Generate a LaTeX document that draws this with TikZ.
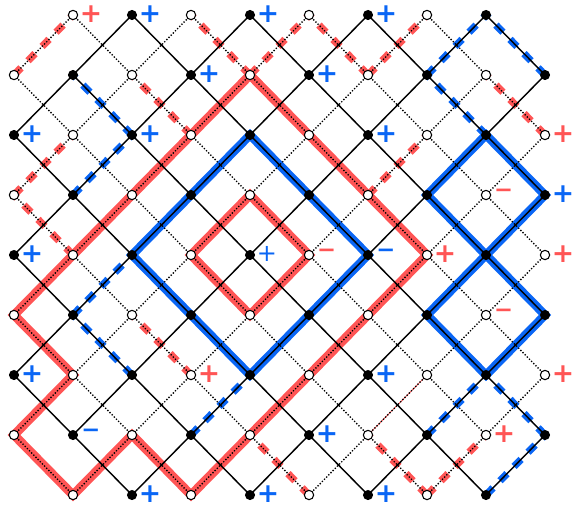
\documentclass[tikz,border=0pt]{standalone}
\usepackage{fontspec}
\newfontfamily\signfont{DejaVu Sans}
\usetikzlibrary{positioning}
\definecolor{plusblue}{HTML}{0A66F5}
\definecolor{minusred}{HTML}{FF5555}
\pgfdeclarelayer{loops}
\pgfdeclarelayer{grid}
\pgfsetlayers{loops,grid,main}

\begin{document}
\begin{tikzpicture}[x=44.25pt,y=-45pt,
  bdot/.style={circle,fill=black,inner sep=0pt,minimum size=7.6pt},
  wdot/.style={circle,draw=black,fill=white,line width=0.8pt,inner sep=0pt,minimum size=7pt},
  solidedge/.style={line width=1.1pt},
  dotedge/.style={line width=1pt,dash pattern=on 1pt off 1.3pt},
  redloop/.style={minusred,line width=6.8pt},
  blueloop/.style={plusblue,line width=6.5pt},
  reddash/.style={minusred,line width=5.5pt,dash pattern=on 7.5pt off 7.5pt},
  bluedash/.style={plusblue,line width=5.5pt,dash pattern=on 7.5pt off 7.5pt},
  bplus/.style={plusblue,inner sep=0pt,yshift=1pt,font=\signfont\bfseries\fontsize{20}{20}\selectfont},
  bminus/.style={plusblue,inner sep=0pt,yshift=1pt,font=\signfont\bfseries\fontsize{17}{17}\selectfont},
  rplus/.style={minusred,inner sep=0pt,yshift=1pt,font=\signfont\bfseries\fontsize{20}{20}\selectfont},
  rminus/.style={minusred,inner sep=0pt,yshift=1pt,font=\signfont\bfseries\fontsize{17}{17}\selectfont}]
  \useasboundingbox (-10.5pt,11.25pt) rectangle (419.25pt,-366.75pt);

  % lattice points: black on even sites, white on odd ones
  \foreach \r in {0,...,8}{
    \foreach \c in {0,...,9}{
      \pgfmathtruncatemacro\gone{(\r==0||\r==8)*(\c==0||\c==9)}
      \pgfmathtruncatemacro\odd{mod(\r+\c,2)}
      \ifnum\gone=0
        \ifnum\odd=0 \node[bdot] (p-\r-\c) at (\c,\r) {};
        \else \node[wdot] (p-\r-\c) at (\c,\r) {};\fi
      \fi
    }
  }

  % diagonal edges
  \begin{pgfonlayer}{grid}
  \foreach \r in {0,...,7}{
    \foreach \c in {0,...,9}{
      \pgfmathtruncatemacro\dn{\r+1}
      \pgfmathtruncatemacro\rt{\c+1}
      \pgfmathtruncatemacro\lt{\c-1}
      \pgfmathtruncatemacro\odd{mod(\r+\c,2)}
      \pgfmathtruncatemacro\hasr{(\c<9)*(1-(\r==0)*(\c==0))*(1-(\r==7)*(\c==8))}
      \pgfmathtruncatemacro\hasl{(\c>0)*(1-(\r==0)*(\c==9))*(1-(\r==7)*(\c==1))}
      \ifnum\odd=0 \def\look{solidedge}\else\def\look{dotedge}\fi
      \ifnum\hasr=1 \draw[\look] (p-\r-\c.center) -- (p-\dn-\rt.center);\fi
      \ifnum\hasl=1 \draw[\look] (p-\r-\c.center) -- (p-\dn-\lt.center);\fi
    }
  }
  \end{pgfonlayer}

  \begin{pgfonlayer}{loops}
  % closed loops
  \draw[redloop] (p-5-0.center) -- (p-4-1.center) -- (p-3-2.center) -- (p-2-3.center)
    -- (p-1-4.center) -- (p-2-5.center) -- (p-3-6.center) -- (p-4-7.center)
    -- (p-5-6.center) -- (p-6-5.center) -- (p-7-4.center) -- (p-8-3.center)
    -- (p-7-2.center) -- (p-8-1.center) -- (p-7-0.center) -- (p-6-1.center) -- cycle;
  \draw[redloop] (p-3-4.center) -- (p-4-5.center) -- (p-5-4.center) -- (p-4-3.center) -- cycle;
  \draw[blueloop] (p-2-4.center) -- (p-3-5.center) -- (p-4-6.center) -- (p-5-5.center)
    -- (p-6-4.center) -- (p-5-3.center) -- (p-4-2.center) -- (p-3-3.center) -- cycle;
  \draw[blueloop] (p-2-8.center) -- (p-3-9.center) -- (p-4-8.center) -- (p-5-9.center)
    -- (p-6-8.center) -- (p-5-7.center) -- (p-4-8.center) -- (p-3-7.center) -- cycle;

  % dashed strands
  \foreach \a/\b in {1-0/0-1,2-3/1-2,3-0/2-1,4-1/3-0,1-4/0-3,1-4/0-5,1-6/0-5,1-6/0-7,
      2-9/1-8,3-6/2-7,6-3/5-2,8-5/7-4,8-7/7-6,8-7/7-8}
    \draw[reddash] (p-\a.center) -- (p-\b.center);
  \foreach \a/\b in {2-2/1-1,3-1/2-2,5-1/4-2,6-2/5-1,7-3/6-4,1-7/0-8,1-9/0-8,2-8/1-7,
      7-7/6-8,7-9/6-8,8-8/7-9}
    \draw[bluedash] (p-\a.center) -- (p-\b.center);
  \draw[minusred,line width=0.6pt] (p-7-6.center) -- (p-6-7.center);
  \end{pgfonlayer}

  % signs
  \foreach \r/\c in {0/2,0/4,0/6,1/3,1/5,2/0,2/2,2/6,3/9,4/0,6/0,6/6,7/5,8/2,8/4,8/6}
    \node[bplus,right=1pt of p-\r-\c] (s-\r-\c) {+};
  \node[bplus,font=\signfont\fontsize{18}{18}\selectfont,right=1pt of p-4-4] (s-4-4) {+};
  \foreach \r/\c in {4/6,7/1}
    \node[bminus,right=2pt of p-\r-\c] (s-\r-\c) {−};
  \foreach \r/\c in {0/1,2/9,4/7,4/9,6/3,6/9,7/8}
    \node[rplus,right=1pt of p-\r-\c] (s-\r-\c) {+};
  \foreach \r/\c in {3/8,4/5,5/8}
    \node[rminus,right=2pt of p-\r-\c] (s-\r-\c) {−};
\end{tikzpicture}
\end{document}
